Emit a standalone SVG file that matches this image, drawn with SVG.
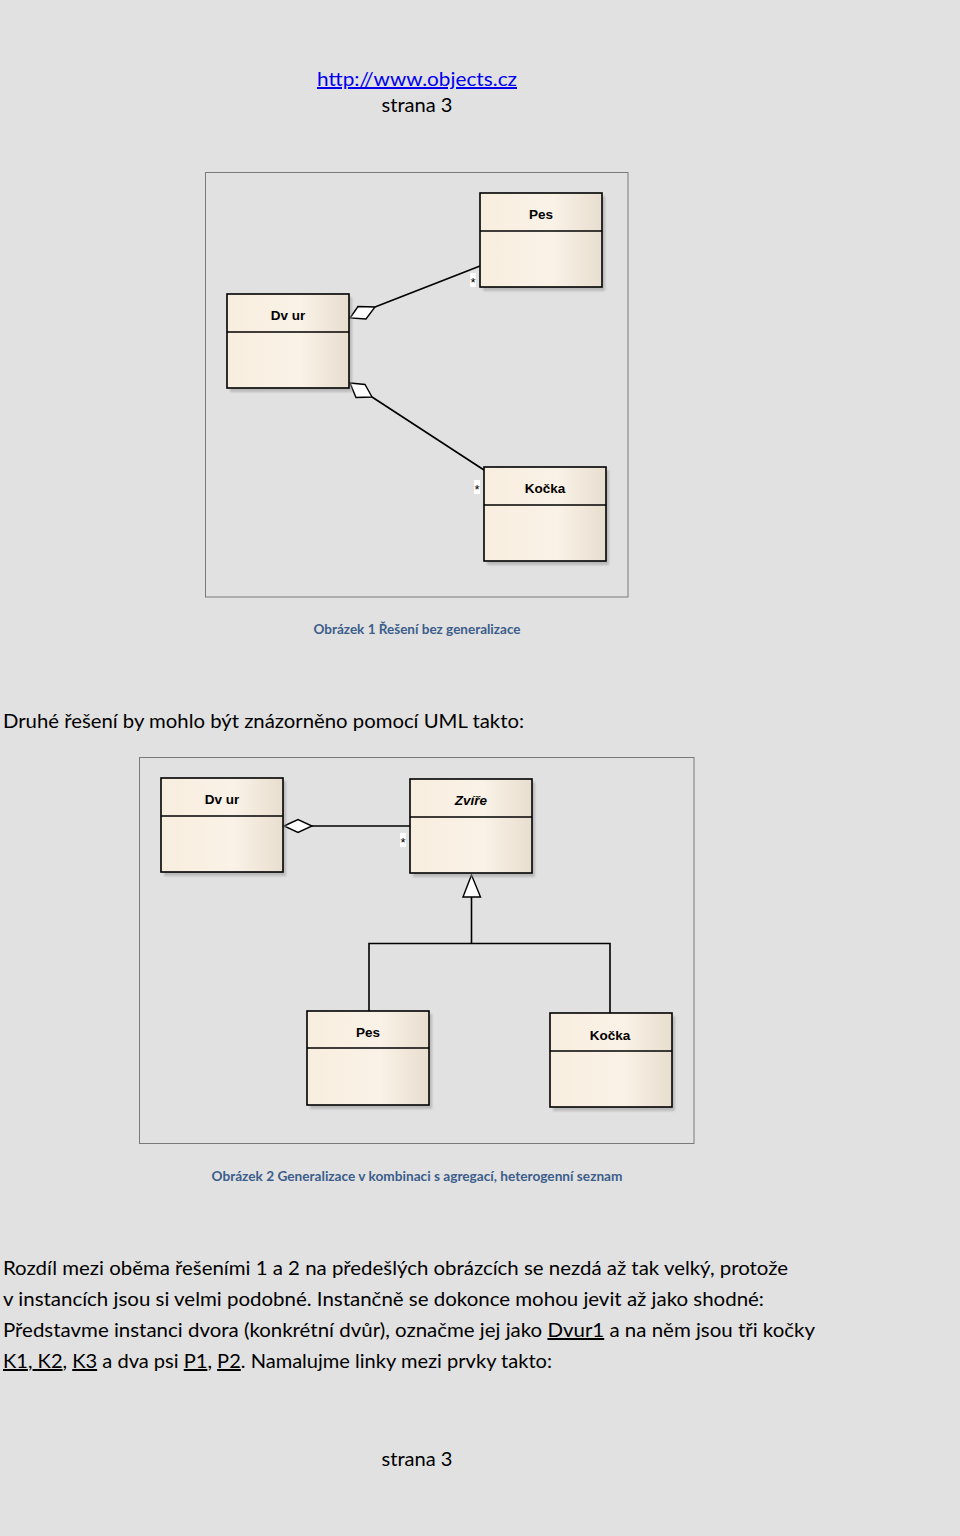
<svg xmlns="http://www.w3.org/2000/svg" width="960" height="1536" viewBox="0 0 960 1536">
<style>
.bg{fill:#e1e1e1}
.frame{fill:none;stroke:#7a7a7a;stroke-width:1}
.box{fill:url(#g);stroke:#000;stroke-width:1.6}
.shadow{fill:#9a9a9a;opacity:.55;filter:url(#blur)}
.div{stroke:#000;stroke-width:1.4}
.lbl{font-family:"Liberation Sans",Arial,sans-serif;font-weight:bold;font-size:13.5px;fill:#000;text-anchor:middle}
.it{font-style:italic}
.star{font-family:"Liberation Sans",Arial,sans-serif;font-size:13px;fill:#000;text-anchor:middle}
.starbg{fill:#ffffff}
.conn{fill:none;stroke:#000;stroke-width:1.6}
.dia{fill:#fff;stroke:#000;stroke-width:1.4;stroke-linejoin:miter}
.body{font-family:Lato,"Liberation Sans",sans-serif;font-size:20px;fill:#000}
.cap{font-family:Lato,"Liberation Sans",sans-serif;font-size:13.5px;font-weight:bold;fill:#3b5d8b;text-anchor:middle}
.url{fill:#0000ee;text-decoration:underline}
.u{text-decoration:underline}
</style>
<defs>
<linearGradient id="g" x1="0" y1="0" x2="1" y2="0">
<stop offset="0" stop-color="#f8eedf"/>
<stop offset="0.6" stop-color="#faf2e7"/>
<stop offset="1" stop-color="#e8decf"/>
</linearGradient>
<filter id="blur" x="-10%" y="-10%" width="120%" height="120%"><feGaussianBlur stdDeviation="1.2"/></filter>
</defs>
<rect class="bg" x="0" y="0" width="960" height="1536"/>

<g id="header">
<text class="body url" x="417" y="86" text-anchor="middle" textLength="200" lengthAdjust="spacingAndGlyphs">http://www.objects.cz</text>
<text class="body" x="417" y="112" text-anchor="middle" textLength="71" lengthAdjust="spacingAndGlyphs">strana 3</text>
</g>

<!-- Diagram 1 -->
<rect id="frame1" class="frame" x="205.5" y="172.5" width="422.5" height="424.5"/>

<g id="connectors1">
<line class="conn" x1="375" y1="307" x2="480" y2="266"/>
<polygon class="dia" points="350,318 358,306.5 375,307 366,319"/>
<line class="conn" x1="372" y1="397" x2="484" y2="470"/>
<polygon class="dia" points="350,383 365,384.5 372,397 356,397.5"/>
<rect class="starbg" x="470" y="273" width="6" height="14"/>
<text class="star" x="473" y="287">*</text>
<rect class="starbg" x="474" y="480" width="6" height="14"/>
<text class="star" x="477" y="494">*</text>
</g>

<g id="d1-pes">
<rect class="shadow" x="483" y="196" width="122" height="95"/>
<rect class="box" x="480" y="193" width="122" height="94"/>
<line class="div" x1="480" y1="231" x2="602" y2="231"/>
<text class="lbl" x="541" y="219">Pes</text>
</g>
<g id="d1-dvur">
<rect class="shadow" x="230" y="297" width="122" height="95"/>
<rect class="box" x="227" y="294" width="122" height="94"/>
<line class="div" x1="227" y1="332" x2="349" y2="332"/>
<text class="lbl" x="288" y="320">Dv ur</text>
</g>
<g id="d1-kocka">
<rect class="shadow" x="487" y="470" width="122" height="95"/>
<rect class="box" x="484" y="467" width="122" height="94"/>
<line class="div" x1="484" y1="505" x2="606" y2="505"/>
<text class="lbl" x="545" y="493">Kočka</text>
</g>

<text id="caption1" class="cap" x="417" y="634" textLength="207" lengthAdjust="spacingAndGlyphs">Obrázek 1 Řešení bez generalizace</text>

<text id="para1" class="body" x="3" y="728" textLength="521" lengthAdjust="spacingAndGlyphs">Druhé řešení by mohlo být znázorněno pomocí UML takto:</text>

<!-- Diagram 2 -->
<rect id="frame2" class="frame" x="139.5" y="757.5" width="554.5" height="386"/>

<g id="connectors2">
<line class="conn" x1="311" y1="826" x2="410" y2="826"/>
<polygon class="dia" points="284,826 298,819.5 312,826 298,832.5"/>
<rect class="starbg" x="400" y="833" width="6" height="14"/>
<text class="star" x="403" y="847">*</text>
<polyline class="conn" points="369,1011 369,943.5 610,943.5 610,1013"/>
<line class="conn" x1="471.5" y1="943.5" x2="471.5" y2="897"/>
<polygon class="dia" points="471.5,875 480.5,897 463,897"/>
</g>

<g id="d2-dvur">
<rect class="shadow" x="164" y="781" width="122" height="95"/>
<rect class="box" x="161" y="778" width="122" height="94"/>
<line class="div" x1="161" y1="816" x2="283" y2="816"/>
<text class="lbl" x="222" y="804">Dv ur</text>
</g>
<g id="d2-zvire">
<rect class="shadow" x="413" y="782" width="122" height="95"/>
<rect class="box" x="410" y="779" width="122" height="94"/>
<line class="div" x1="410" y1="817" x2="532" y2="817"/>
<text class="lbl it" x="471" y="805">Zvíře</text>
</g>
<g id="d2-pes">
<rect class="shadow" x="310" y="1014" width="122" height="95"/>
<rect class="box" x="307" y="1011" width="122" height="94"/>
<line class="div" x1="307" y1="1048" x2="429" y2="1048"/>
<text class="lbl" x="368" y="1037">Pes</text>
</g>
<g id="d2-kocka">
<rect class="shadow" x="553" y="1016" width="122" height="95"/>
<rect class="box" x="550" y="1013" width="122" height="94"/>
<line class="div" x1="550" y1="1051" x2="672" y2="1051"/>
<text class="lbl" x="610" y="1040">Kočka</text>
</g>

<text id="caption2" class="cap" x="417" y="1181" textLength="411" lengthAdjust="spacingAndGlyphs">Obrázek 2 Generalizace v kombinaci s agregací, heterogenní seznam</text>

<g id="para2">
<text class="body" x="3" y="1275" textLength="785" lengthAdjust="spacingAndGlyphs">Rozdíl mezi oběma řešeními 1 a 2 na předešlých obrázcích se nezdá až tak velký, protože</text>
<text class="body" x="3" y="1306" textLength="761" lengthAdjust="spacingAndGlyphs">v instancích jsou si velmi podobné. Instančně se dokonce mohou jevit až jako shodné:</text>
<text class="body" x="3" y="1337" textLength="812" lengthAdjust="spacingAndGlyphs">Představme instanci dvora (konkrétní dvůr), označme jej jako <tspan class="u">Dvur1</tspan> a na něm jsou tři kočky</text>
<text class="body" x="3" y="1368" textLength="549" lengthAdjust="spacingAndGlyphs"><tspan class="u">K1</tspan>,<tspan class="u"> K2</tspan>, <tspan class="u">K3</tspan> a dva psi <tspan class="u">P1</tspan>, <tspan class="u">P2</tspan>. Namalujme linky mezi prvky takto:</text>
</g>

<text id="footer" class="body" x="417" y="1466" text-anchor="middle" textLength="71" lengthAdjust="spacingAndGlyphs">strana 3</text>
</svg>
